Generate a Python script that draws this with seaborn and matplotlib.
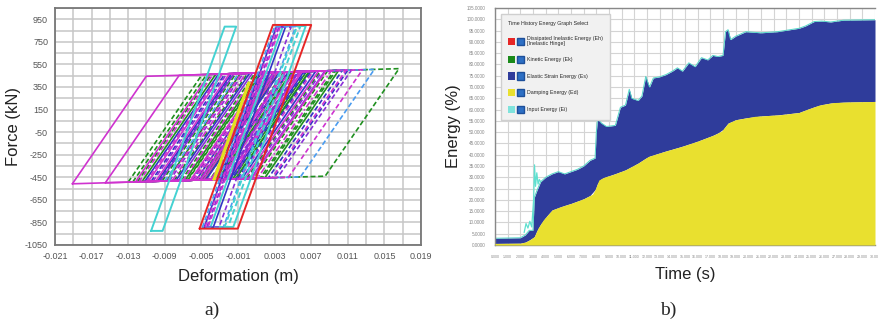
import numpy as np
import pandas as pd
import matplotlib
matplotlib.use("Agg")
import matplotlib.pyplot as plt
import seaborn as sns
from matplotlib.patches import Patch
from matplotlib.legend_handler import HandlerTuple

# ---------------- data: panel a (hysteresis loops) ----------------
# weak (yielding at ~±470 kN) loops: bottom-left deformation, top-right deformation
weak_xbl = [-0.0191, -0.0155, -0.0130, -0.0090, -0.0110, -0.0085, -0.0105, -0.0120,
            -0.0100, -0.0078, -0.0115, -0.0095, -0.0070, -0.0125, -0.0082, -0.0065,
            -0.0060, -0.0108, -0.0088, -0.0075, -0.0055, -0.0050, -0.0045, -0.0040,
            -0.0035, -0.0030, -0.0098, -0.0118, -0.0068, -0.0058, -0.0025, -0.0093,
            -0.0112, -0.0103, -0.0087, -0.0072, -0.0062, -0.0052, -0.0122, -0.0080,
            -0.0048, -0.0038, -0.0096, -0.0032]
weak_xtr = [0.0030, 0.0060, 0.0166, 0.0139, 0.0126, 0.0114, 0.0104, 0.0097,
            0.0086, 0.0075, 0.0068, 0.0057, 0.0046, 0.0040, 0.0092, 0.0080,
            0.0064, 0.0052, 0.0035, 0.0030, 0.0072, 0.0050, 0.0062, 0.0078,
            0.0088, 0.0055, 0.0025, 0.0020, 0.0100, 0.0108, 0.0070, 0.0015,
            0.0045, 0.0082, 0.0060, 0.0095, 0.0042, 0.0085, 0.0033, 0.0028,
            0.0068, 0.0058, 0.0110, 0.0065]
weak_col = ["M", "M", "G", "L", "M", "P", "B", "G",
            "M", "B", "G", "P", "M", "G", "M", "G",
            "B", "M", "G", "P", "M", "G", "B", "M",
            "G", "P", "B", "M", "G", "M", "B", "G",
            "B", "P", "M", "G", "M", "P", "M", "G",
            "G", "M", "B", "G"]
weak_ls = ["-", "-", "--", "--", "--", "--", "--", "--",
           "-", "-", "-", "-", "--", "--", "-.", "--",
           "--", "-", "-", "-", "--", "--", "-", "-",
           "--", "--", "-", "--", "-", "--", "--", "--",
           "-", "--", "--", "--", "-", "-", "-", "--",
           "-", "--", "--", "-"]
weak_top0, weak_bot0 = 472.0, -461.0      # yield force at zero deformation (kN)
weak_hard = 2450.0                         # post-yield slope (kN/m)
weak_k = 118000.0                          # elastic slope (kN/m)

# stiff (yielding at ~±900 kN) loops
stiff_xbl = [-0.0105, -0.0040, -0.0047, -0.0044, -0.0046, -0.0049, -0.0025, -0.0037, -0.0052]
stiff_xtr = [-0.0012, 0.0064, 0.0042, 0.0048, 0.0036, 0.0053, 0.0058, 0.0003, 0.0070]
stiff_top = [885, 890, 885, 880, 880, 885, 885, 390, 900]
stiff_bot = [-925, -890, -895, -890, -890, -895, -900, -470, -905]
stiff_col = ["C", "C", "B", "P", "M", "L", "C", "Y", "R"]
stiff_ls = ["-", "-", "-", "--", "--", "--", "--", "-", "-"]
stiff_k = 225000.0

palette = {"M": "#cf33cf", "G": "#1f8f1f", "B": "#3434c6", "P": "#8a30d8",
           "L": "#4a9cf0", "C": "#44d2d2", "R": "#e62626", "Y": "#e2e21e"}

xa_ticks = [-0.021, -0.017, -0.013, -0.009, -0.005, -0.001, 0.003, 0.007, 0.011, 0.015, 0.019]
xa_labels = ["-0.021", "-0.017", "-0.013", "-0.009", "-0.005", "-0.001",
             "0.003", "0.007", "0.011", "0.015", "0.019"]
ya_ticks = [-1050, -850, -650, -450, -250, -50, 150, 350, 550, 750, 950]
ya_labels = ["-1050", "-850", "-650", "-450", "-250", "-50", "150", "350", "550", "750", "950"]

# ---------------- data: panel b (energy time history) ----------------
strain_t = [0, 2.0, 2.4, 2.7, 3.0, 3.1, 3.3, 3.6, 4.0, 4.5, 5.0, 5.5, 6.0, 6.5, 7.0,
            7.5, 7.9, 8.0, 8.1, 8.4, 8.8, 9.5, 9.9, 10.3, 10.6, 10.8, 11.3, 11.6,
            11.9, 12.2, 12.5, 13.0, 13.5, 14.0, 14.4, 14.8, 15.3, 15.8, 16.3, 16.8,
            17.2, 17.6, 18.0, 18.2, 18.4, 18.6, 19.0, 19.8, 21.0, 22.3, 24.0, 24.5,
            25.2, 25.8, 26.5, 27.5, 30.0]
strain_e = [3.0, 3.2, 4.5, 6.5, 6.5, 21.0, 24.0, 28.0, 30.0, 31.5, 32.5, 31.5, 32.5,
            33.5, 35.0, 37.5, 38.5, 50.0, 56.0, 54.0, 52.5, 53.0, 61.0, 62.0, 69.0,
            65.0, 64.0, 66.0, 74.7, 70.0, 74.0, 74.5, 75.5, 77.0, 78.5, 77.0, 80.7,
            79.0, 83.0, 82.0, 84.0, 83.5, 84.0, 94.5, 95.4, 91.0, 92.5, 94.5, 94.0,
            94.5, 96.0, 97.0, 99.0, 99.2, 98.8, 99.6, 99.8]
damp_t = [0, 2.0, 2.4, 2.8, 3.1, 3.4, 3.8, 4.5, 5.2, 6.1, 7.0, 7.7, 7.9, 8.2, 8.6,
          9.2, 10.3, 11.3, 12.1, 13.4, 14.7, 16.0, 17.3, 17.9, 18.4, 19.0, 20.5,
          22.5, 24.0, 24.6, 25.6, 26.7, 28.0, 30.0]
damp_e = [0.7, 0.8, 1.3, 2.5, 3.7, 7.5, 11.0, 15.5, 17.0, 18.6, 20.5, 22.5, 24.5,
          28.8, 30.0, 31.0, 33.3, 36.3, 39.2, 41.5, 43.6, 46.0, 48.8, 50.5, 54.0,
          55.5, 57.0, 57.7, 58.7, 60.0, 62.0, 63.1, 63.4, 63.6]
input_spike_t = [2.3, 2.45, 2.6, 2.75, 2.9, 3.05, 3.12, 3.2, 3.3, 3.4, 3.5, 3.6]
input_spike_e = [5.5, 9.5, 7.5, 10.5, 8.0, 20.0, 35.5, 26.0, 32.0, 27.0, 29.0, 28.0]

xb_ticks = list(range(0, 31))
xb_labels = [f"{t:.3f}" for t in xb_ticks]
yb_ticks = list(range(0, 106, 5))
yb_labels = [f"{v:.4f}" for v in yb_ticks]

legend_names = ["Dissipated Inelastic Energy (Eh)\n[Inelastic Hinge]", "Kinetic Energy (Ek)",
                "Elastic Strain Energy (Es)", "Damping Energy (Ed)", "Input Energy (Ei)"]
legend_cols = ["#e62626", "#1a8a1a", "#2f3c9b", "#e9e02f", "#7fe3dc"]

# ---------------- figure ----------------
sns.set_theme(style="white")
plt.rcParams["font.family"] = ["Liberation Sans", "DejaVu Sans"]

W, H = 879, 325
fig = plt.figure(figsize=(W / 100, H / 100), dpi=100)
axa = fig.add_axes([55 / W, 80 / H, 366 / W, 237 / H])
axb = fig.add_axes([495 / W, 80 / H, 380 / W, 237 / H])


def dash(ls):
    if ls == "--":
        return (0, (3, 1.6))
    if ls == "-.":
        return (0, (4, 1.5, 1, 1.5))
    return "-"


def draw_loop(ax, xbl, xtr, top0, bot0, hard, k, color, ls, lw=1.2, z=2):
    fbl = bot0 + hard * xbl
    xtl = (top0 - fbl + k * xbl) / (k - hard)
    ftl = top0 + hard * xtl
    ftr = top0 + hard * xtr
    xbr = (ftr - k * xtr - bot0) / (hard - k)
    fbr = bot0 + hard * xbr
    df = pd.DataFrame({"d": [xbl, xtl, xtr, xbr, xbl], "f": [fbl, ftl, ftr, fbr, fbl]})
    sns.lineplot(data=df, x="d", y="f", sort=False, estimator=None, ax=ax,
                 color=color, linestyle=dash(ls), lw=lw, zorder=z)


order = {"G": 2, "B": 3, "P": 3.5, "L": 3.2, "M": 4}
for xbl, xtr, c, ls in zip(weak_xbl, weak_xtr, weak_col, weak_ls):
    draw_loop(axa, xbl, xtr, weak_top0, weak_bot0, weak_hard, weak_k,
              palette[c], ls, z=order[c])
for xbl, xtr, ft, fb, c, ls in zip(stiff_xbl, stiff_xtr, stiff_top, stiff_bot, stiff_col, stiff_ls):
    draw_loop(axa, xbl, xtr, ft, fb, 0.0, stiff_k, palette[c], ls,
              lw=1.4 if c in "CR" else 1.2, z=5)

axa.set_xlim(-0.021, 0.019)
axa.set_ylim(-1050, 1050)
axa.set_xticks(xa_ticks)
axa.set_xticklabels(xa_labels)
axa.set_yticks(ya_ticks)
axa.set_yticklabels(ya_labels)
axa.set_xticks(np.arange(-0.021, 0.0191, 0.002), minor=True)
axa.set_yticks(np.arange(-1050, 1051, 100), minor=True)
axa.grid(True, which="both", color="#c6c6c6", lw=1.1)
axa.set_axisbelow(True)
axa.tick_params(axis="both", which="both", direction="out", length=3, width=1,
                color="#777777", labelsize=6.5, labelcolor="#555555", pad=2)
axa.tick_params(axis="both", which="minor", length=3)
for s in axa.spines.values():
    s.set_color("#777777")
    s.set_linewidth(1.3)
axa.set_xlabel("Deformation (m)", fontsize=12, color="#222222", labelpad=6)
axa.set_ylabel("Force (kN)", fontsize=12, color="#222222", labelpad=3)

# panel b
axb.fill_between(damp_t, 0, damp_e, color="#e9e02f", lw=0, zorder=3)
yel_on_strain = np.interp(strain_t, damp_t, damp_e)
axb.fill_between(strain_t, yel_on_strain, strain_e, color="#2f3c9b", lw=0, zorder=2)
sns.lineplot(x=strain_t, y=strain_e, sort=False, estimator=None, ax=axb,
             color="#55d6c8", lw=0.7, zorder=2.5)
sns.lineplot(x=input_spike_t, y=input_spike_e, sort=False, estimator=None, ax=axb,
             color="#5fe0d0", lw=0.9, zorder=2.5)

axb.set_xlim(0, 30)
axb.set_ylim(0, 105)
axb.set_xticks(xb_ticks)
axb.set_xticklabels(xb_labels, fontsize=2.6, color="#888888")
axb.set_yticks(yb_ticks)
axb.set_yticklabels(yb_labels, fontsize=3.3, color="#888888")
axb.grid(True, color="#d4d4d4", lw=0.8)
axb.set_axisbelow(True)
axb.tick_params(axis="both", direction="out", length=5, width=0.9, color="#888888", pad=2)
for name, s in axb.spines.items():
    s.set_color("#888888")
    s.set_linewidth(1.0)
axb.spines["right"].set_visible(False)
axb.set_xlabel("Time (s)", fontsize=12, color="#222222", labelpad=6)
axb.set_ylabel("Energy (%)", fontsize=12, color="#222222", labelpad=4)

handles = [(Patch(facecolor=c, edgecolor="none"), Patch(facecolor="#2d6fc4", edgecolor="#1d4f9a"))
           for c in legend_cols]
leg = axb.legend(handles, legend_names, handler_map={tuple: HandlerTuple(ndivide=None, pad=0.4)},
                 loc="upper left", bbox_to_anchor=(0.008, 0.985), fontsize=3.8,
                 title="Time History Energy Graph Select", title_fontsize=3.8,
                 frameon=True, fancybox=False, facecolor="#f1f1f1", edgecolor="#cfcfcf",
                 framealpha=1, handlelength=3.2, handleheight=1.7, labelspacing=1.8,
                 borderpad=1.3, handletextpad=0.5)
leg._legend_box.align = "left"
leg.set_zorder(10)

fig.text(212 / W, 1 - 310 / H, "a)", fontsize=14, family="Liberation Serif", ha="center", va="center")
fig.text(668 / W, 1 - 310 / H, "b)", fontsize=14, family="Liberation Serif", ha="center", va="center")

fig.savefig("out.png", dpi=100)
